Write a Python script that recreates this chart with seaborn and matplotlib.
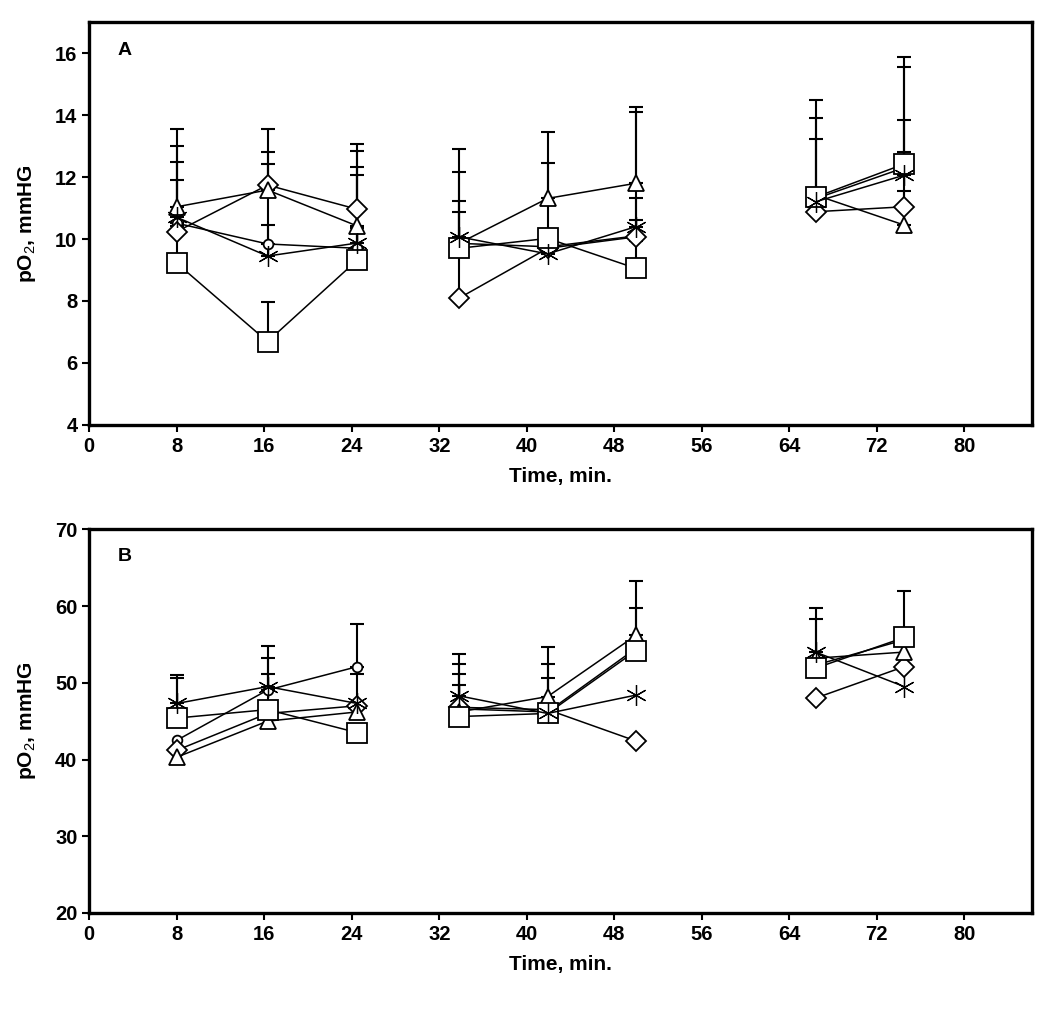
import numpy as np
import pandas as pd
import matplotlib
matplotlib.use("Agg")
import matplotlib.pyplot as plt
import seaborn as sns

# sampling times (min) and which block each time belongs to
times = [8, 16.3, 24.5, 33.8, 41.9, 50, 66.4, 74.5]
blocks = [0, 0, 0, 1, 1, 1, 2, 2]

# draw order: first is drawn underneath
series_names = ['circle', 'diamond', 'triangle', 'square', 'star']

# Panel A: pO2 means (mmHG)
a_circle = [10.51, 9.84, 9.70, 9.86, 9.75, 10.10, 11.30, 12.30]
a_diamond = [10.24, 11.74, 10.96, 8.09, 9.70, 10.07, 10.88, 11.04]
a_triangle = [11.04, 11.58, 10.42, 9.86, 11.31, 11.80, 11.42, 10.45]
a_square = [9.22, 6.69, 9.32, 9.70, 10.02, 9.05, 11.35, 12.42]
a_star = [10.70, 9.45, 9.87, 10.07, 9.52, 10.40, 11.20, 12.06]

# Panel A: upper error (SD)
a_circle_sd = [2.50, 2.57, 2.63, 1.00, 0.50, 0.52, 0.30, 0.50]
a_diamond_sd = [2.25, 1.06, 2.09, 1.90, 0.60, 4.04, 0.40, 0.50]
a_triangle_sd = [2.50, 1.96, 2.42, 1.38, 2.13, 2.47, 2.47, 3.39]
a_square_sd = [1.20, 1.29, 2.74, 2.47, 2.44, 0.90, 3.13, 3.46]
a_star_sd = [1.20, 1.00, 0.50, 2.82, 0.50, 0.93, 2.03, 3.50]

# Panel B: pO2 means (mmHG)
b_circle = [42.5, 49.05, 52.1, 46.6, 46.2, 54.5, 52.3, 55.6]
b_diamond = [41.2, 46.0, 47.0, 46.8, 46.5, 42.4, 48.0, 52.1]
b_triangle = [40.3, 45.0, 46.2, 46.2, 48.2, 56.2, 53.2, 54.0]
b_square = [45.4, 46.5, 43.5, 45.6, 46.0, 54.2, 51.9, 55.9]
b_star = [47.3, 49.5, 47.3, 48.3, 46.0, 48.4, 54.0, 49.5]

# Panel B: upper error (SD)
b_circle_sd = [0, 5.75, 5.6, 3.1, 0, 0, 0, 0]
b_diamond_sd = [0, 0, 0, 0, 0, 0, 0, 0]
b_triangle_sd = [0, 0, 0, 4.9, 6.4, 7.1, 0, 0]
b_square_sd = [5.2, 6.7, 0, 6.9, 6.4, 5.5, 6.4, 6.1]
b_star_sd = [3.7, 1.7, 3.8, 5.4, 4.6, 0, 5.7, 0]

x_ticks = [0, 8, 16, 24, 32, 40, 48, 56, 64, 72, 80]

markers = {'diamond': ('D', 10, 1.3), 'square': ('s', 14, 1.3),
           'triangle': ('^', 12, 1.3), 'star': ((6, 2, 0), 15, 0.9),
           'circle': ('o', 7, 1.3)}

sns.set_style("white")
plt.rcParams['font.family'] = ['Liberation Sans', 'DejaVu Sans']
plt.rcParams['mathtext.fontset'] = 'custom'
plt.rcParams['mathtext.rm'] = 'Liberation Sans'
plt.rcParams['text.color'] = 'black'
plt.rcParams['axes.labelcolor'] = 'black'


def make_df(vals, sds):
    rows = []
    for name, v, s in zip(series_names, vals, sds):
        for t, b, m, e in zip(times, blocks, v, s):
            rows.append({'series': name, 'time': t, 'block': b, 'po2': m, 'sd': e})
    return pd.DataFrame(rows)


def draw_panel(ax, df, ylim, yticks, letter):
    for name in series_names:
        d = df[df['series'] == name]
        e = d[d['sd'] > 0]
        ax.errorbar(e['time'], e['po2'], yerr=[np.zeros(len(e)), e['sd']],
                    fmt='none', ecolor='black', elinewidth=1.5, capsize=5,
                    capthick=1.5, zorder=1)
    for name in series_names:
        mk, ms, mew = markers[name]
        for b in sorted(df['block'].unique()):
            d = df[(df['series'] == name) & (df['block'] == b)]
            sns.lineplot(data=d, x='time', y='po2', ax=ax, color='black',
                         linewidth=1.1, marker=mk, markersize=ms,
                         markerfacecolor='white', markeredgecolor='black',
                         markeredgewidth=mew, zorder=2, legend=False)
    ax.set_xlim(0, 86.2)
    ax.set_ylim(*ylim)
    ax.set_xticks(x_ticks)
    ax.set_yticks(yticks)
    ax.tick_params(direction='out', length=5, width=1.5, labelsize=14.5,
                   bottom=True, left=True, colors='black')
    for lab in ax.get_xticklabels() + ax.get_yticklabels():
        lab.set_fontweight('bold')
    for sp in ax.spines.values():
        sp.set_linewidth(2.4)
        sp.set_color('black')
    ax.set_xlabel('Time, min.', fontsize=15, fontweight='bold', labelpad=8)
    ax.set_ylabel('pO$_2$, mmHG', fontsize=15, fontweight='bold', labelpad=12)
    ax.text(0.03, 0.93, letter, transform=ax.transAxes, fontsize=14,
            fontweight='bold', va='center', ha='left', color='black')


fig = plt.figure(figsize=(10.5, 10.35), dpi=100)
ax_a = fig.add_axes([0.085, 0.5894, 0.898, 0.3893])
ax_b = fig.add_axes([0.085, 0.1179, 0.898, 0.3707])

df_a = make_df([a_circle, a_diamond, a_triangle, a_square, a_star],
               [a_circle_sd, a_diamond_sd, a_triangle_sd, a_square_sd, a_star_sd])
df_b = make_df([b_circle, b_diamond, b_triangle, b_square, b_star],
               [b_circle_sd, b_diamond_sd, b_triangle_sd, b_square_sd, b_star_sd])

draw_panel(ax_a, df_a, (4, 17), [4, 6, 8, 10, 12, 14, 16], 'A')
draw_panel(ax_b, df_b, (20, 70), [20, 30, 40, 50, 60, 70], 'B')

fig.savefig('out.png', dpi=100, facecolor='white')
